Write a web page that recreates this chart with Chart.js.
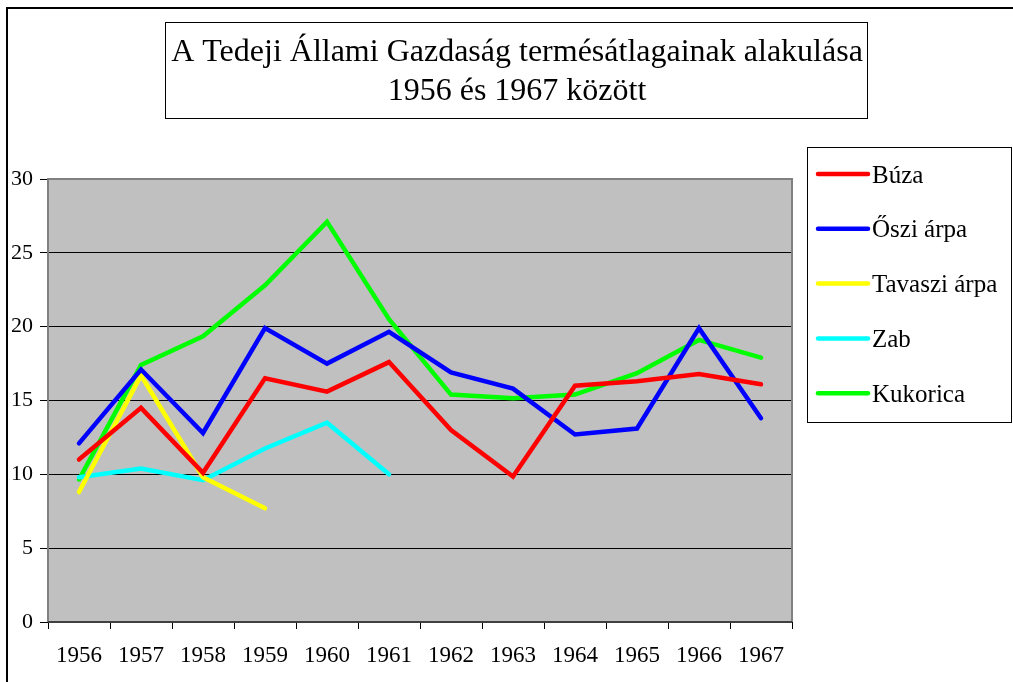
<!DOCTYPE html>
<html>
<head>
<meta charset="utf-8">
<script src="https://cdn.jsdelivr.net/npm/chart.js@4"></script>
<style>
  html, body { margin: 0; padding: 0; background: #fff; }
  #wrap { width: 1013px; height: 682px; }
</style>
</head>
<body>
<div id="wrap"><canvas id="myChart" width="1013" height="682"></canvas></div>
<script>
const years = ["1956", "1957", "1958", "1959", "1960", "1961", "1962", "1963", "1964", "1965", "1966", "1967"];
const buza = [11.0, 14.5, 10.1, 16.5, 15.6, 17.6, 13.0, 9.85, 16.0, 16.3, 16.8, 16.1];
const osziArpa = [12.1, 17.1, 12.8, 19.9, 17.5, 19.65, 16.9, 15.8, 12.7, 13.1, 19.9, 13.8];
const tavasziArpa = [8.8, 16.7, 9.8, 7.7, null, null, null, null, null, null, null, null];
const zab = [9.8, 10.4, 9.6, 11.75, 13.5, 10.0, null, null, null, null, null, null];
const kukorica = [9.65, 17.4, 19.35, 22.8, 27.1, 20.5, 15.4, 15.15, 15.4, 16.85, 19.1, 17.9];
const titleLines = ["A Tedeji Állami Gazdaság termésátlagainak alakulása", "1956 és 1967 között"];

const serif = "'Liberation Serif', 'Times New Roman', serif";

// background, frame, title box, plot area and legend box
const decor = {
  id: "decor",
  beforeDraw(chart) {
    const ctx = chart.ctx;
    const a = chart.chartArea;
    ctx.save();
    ctx.fillStyle = "#fff";
    ctx.fillRect(0, 0, chart.width, chart.height);
    // outer frame
    ctx.strokeStyle = "#000";
    ctx.lineWidth = 2;
    ctx.beginPath();
    ctx.moveTo(7, chart.height);
    ctx.lineTo(7, 8);
    ctx.lineTo(chart.width, 8);
    ctx.stroke();
    // plot background
    ctx.fillStyle = "#c0c0c0";
    ctx.fillRect(a.left, a.top, a.right - a.left, a.bottom - a.top);
    ctx.restore();
  },
  afterDatasetsDraw(chart) {
    const ctx = chart.ctx;
    const a = chart.chartArea;
    ctx.save();
    ctx.strokeStyle = "#808080";
    ctx.lineWidth = 2;
    ctx.beginPath();
    ctx.moveTo(a.left, a.bottom);
    ctx.lineTo(a.left, a.top);
    ctx.lineTo(a.right, a.top);
    ctx.lineTo(a.right, a.bottom);
    ctx.stroke();
    ctx.strokeStyle = "#404040";
    ctx.beginPath();
    ctx.moveTo(a.left, a.bottom);
    ctx.lineTo(a.right, a.bottom);
    ctx.stroke();

    // title box
    ctx.strokeStyle = "#000";
    ctx.lineWidth = 1;
    ctx.strokeRect(165.5, 22.5, 702, 96);
    ctx.fillStyle = "#000";
    ctx.font = "32px " + serif;
    ctx.textAlign = "center";
    ctx.textBaseline = "alphabetic";
    ctx.fillText(titleLines[0], 517, 61);
    ctx.fillText(titleLines[1], 517, 100);

    // legend box
    ctx.strokeRect(807.5, 147.5, 204, 275);
    ctx.font = "25px " + serif;
    ctx.textAlign = "left";
    ctx.textBaseline = "middle";
    chart.data.datasets.forEach((ds, i) => {
      const y = 174 + i * 54.8;
      ctx.strokeStyle = ds.borderColor;
      ctx.lineWidth = 4.5;
      ctx.lineCap = "round";
      ctx.beginPath();
      ctx.moveTo(818, y);
      ctx.lineTo(868, y);
      ctx.stroke();
      ctx.fillStyle = "#000";
      ctx.fillText(ds.label, 872, y + 2);
    });
    ctx.restore();
  }
};

const mk = (label, data, color) => ({
  label: label,
  data: data,
  borderColor: color,
  backgroundColor: color,
  borderWidth: 4.5,
  pointRadius: 0,
  tension: 0,
  borderCapStyle: "round",
  borderJoinStyle: "miter",
  spanGaps: false
});

new Chart(document.getElementById("myChart").getContext("2d"), {
  type: "line",
  data: {
    labels: years,
    datasets: [
      mk("Búza", buza, "#ff0000"),
      mk("Őszi árpa", osziArpa, "#0000ff"),
      mk("Tavaszi árpa", tavasziArpa, "#ffff00"),
      mk("Zab", zab, "#00ffff"),
      mk("Kukorica", kukorica, "#00ff00")
    ]
  },
  options: {
    responsive: false,
    devicePixelRatio: 1,
    animation: false,
    layout: { padding: { top: 179, right: 221, left: 0, bottom: 0 } },
    plugins: {
      legend: { display: false },
      title: { display: false },
      tooltip: { enabled: false }
    },
    scales: {
      x: {
        offset: true,
        afterFit: (s) => { s.height = 60; },
        border: { display: false },
        grid: { offset: true, drawOnChartArea: false, drawTicks: true, tickLength: 7, tickColor: "#000", color: "#000" },
        ticks: { color: "#000", font: { family: serif, size: 23 }, padding: 13, maxRotation: 0, autoSkip: false }
      },
      y: {
        min: 0,
        max: 30,
        afterFit: (s) => { s.width = 48; },
        border: { display: false },
        grid: {
          color: (c) => (c.tick && (c.tick.value === 0 || c.tick.value === 30)) ? "rgba(0,0,0,0)" : "#000",
          tickColor: "#000",
          tickLength: 8,
          lineWidth: 1
        },
        ticks: { stepSize: 5, color: "#000", font: { family: serif, size: 22 }, padding: 7 }
      }
    }
  },
  plugins: [decor]
});
</script>
</body>
</html>
